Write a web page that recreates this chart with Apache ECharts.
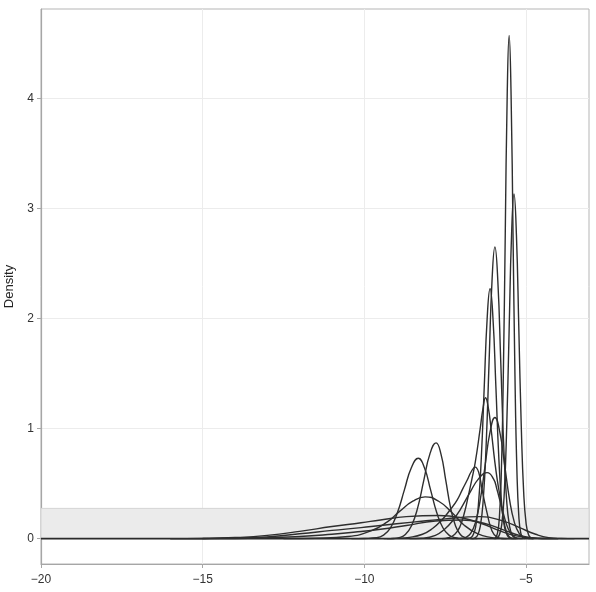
<!DOCTYPE html>
<html>
<head>
<meta charset="utf-8">
<script src="https://cdn.jsdelivr.net/npm/echarts@6/dist/echarts.min.js"></script>
<style>
  html, body { margin: 0; padding: 0; background: #fff; }
  #chart { width: 596px; height: 592px; }
</style>
</head>
<body>
<div id="chart"></div>
<script>
// tick labels
var xTicks = [-20, -15, -10, -5];
var yTicks = [0, 1, 2, 3, 4];
// grey band (ymin, ymax)
var band = [0, 0.275];
// flat zero line under all curves
var baseline = [[-20, 0], [-3.05, 0]];

// density curves, [x, density]
var curveA = [[-6.0,0],[-5.94,0.01],[-5.88,0.05],[-5.82,0.2],[-5.76,0.62],[-5.70,1.48],[-5.64,2.77],[-5.58,4.03],[-5.52,4.57],[-5.46,4.03],[-5.40,2.77],[-5.34,1.48],[-5.28,0.62],[-5.22,0.2],[-5.16,0.05],[-5.10,0.01],[-5.04,0]];
var curveB = [[-5.97,0],[-5.895,0.007],[-5.82,0.035],[-5.745,0.137],[-5.67,0.42],[-5.595,1.02],[-5.52,1.9],[-5.445,2.76],[-5.37,3.13],[-5.295,2.76],[-5.22,1.9],[-5.145,1.02],[-5.07,0.42],[-4.995,0.137],[-4.92,0.035],[-4.845,0.007],[-4.77,0]];
var curveC = [[-6.68,0],[-6.59,0.006],[-6.5,0.029],[-6.41,0.116],[-6.32,0.36],[-6.23,0.86],[-6.14,1.61],[-6.05,2.34],[-5.96,2.65],[-5.87,2.34],[-5.78,1.61],[-5.69,0.86],[-5.6,0.36],[-5.51,0.116],[-5.42,0.029],[-5.33,0.006],[-5.24,0]];
var curveD = [[-6.83,0],[-6.74,0.005],[-6.65,0.025],[-6.56,0.1],[-6.47,0.31],[-6.38,0.74],[-6.29,1.38],[-6.2,2.0],[-6.11,2.27],[-6.02,2.0],[-5.93,1.38],[-5.84,0.74],[-5.75,0.31],[-5.66,0.1],[-5.57,0.025],[-5.48,0.005],[-5.39,0]];
var curveE = [[-7.6,0],[-7.4,0.008],[-7.2,0.04],[-7.04,0.11],[-6.9,0.24],[-6.79,0.38],[-6.68,0.53],[-6.57,0.69],[-6.42,0.99],[-6.33,1.18],[-6.25,1.28],[-6.17,1.2],[-6.08,1.0],[-5.96,0.69],[-5.88,0.52],[-5.8,0.38],[-5.65,0.11],[-5.55,0.03],[-5.45,0.005],[-5.3,0]];
var curveF = [[-7.16,0],[-7.01,0.002],[-6.86,0.012],[-6.71,0.048],[-6.56,0.15],[-6.41,0.36],[-6.26,0.67],[-6.11,0.97],[-5.96,1.1],[-5.81,0.97],[-5.66,0.67],[-5.51,0.36],[-5.36,0.15],[-5.21,0.048],[-5.06,0.012],[-4.91,0.002],[-4.76,0]];
var curveG = [[-9.3,0],[-9.1,0.002],[-8.92,0.01],[-8.73,0.038],[-8.54,0.118],[-8.35,0.28],[-8.16,0.53],[-7.97,0.77],[-7.78,0.87],[-7.63,0.77],[-7.48,0.53],[-7.33,0.28],[-7.18,0.118],[-7.03,0.038],[-6.88,0.01],[-6.7,0.002],[-6.5,0]];
var curveH = [[-10.4,0],[-10.0,0.002],[-9.62,0.008],[-9.405,0.032],[-9.19,0.099],[-8.975,0.237],[-8.76,0.443],[-8.545,0.644],[-8.33,0.73],[-8.14,0.644],[-7.95,0.443],[-7.76,0.237],[-7.57,0.099],[-7.38,0.032],[-7.19,0.008],[-7.0,0.002],[-6.8,0]];
var curveI = [[-9.4,0],[-9.0,0.003],[-8.6,0.012],[-8.2,0.04],[-7.9,0.09],[-7.6,0.17],[-7.35,0.26],[-7.13,0.35],[-6.96,0.45],[-6.82,0.53],[-6.69,0.61],[-6.57,0.65],[-6.46,0.6],[-6.36,0.45],[-6.2,0.23],[-6.05,0.07],[-5.9,0.015],[-5.75,0.002],[-5.6,0]];
var curveJ = [[-8.6,0],[-8.2,0.004],[-7.8,0.03],[-7.5,0.09],[-7.25,0.17],[-7.04,0.26],[-6.73,0.42],[-6.45,0.55],[-6.2,0.6],[-6.0,0.54],[-5.9,0.45],[-5.8,0.34],[-5.7,0.23],[-5.55,0.09],[-5.4,0.025],[-5.25,0.004],[-5.1,0]];
var curveK = [[-12.5,0],[-11.5,0.004],[-10.5,0.02],[-9.8,0.07],[-9.3,0.15],[-8.9,0.25],[-8.5,0.34],[-8.12,0.38],[-7.7,0.34],[-7.3,0.24],[-6.9,0.12],[-6.5,0.045],[-6.1,0.012],[-5.7,0.002],[-5.3,0]];
var curveM = [[-16,0],[-15,0.002],[-14,0.01],[-13,0.03],[-12,0.066],[-11,0.11],[-10.1,0.145],[-9.5,0.17],[-8.7,0.2],[-7.7,0.21],[-7.0,0.19],[-6.4,0.14],[-5.8,0.07],[-5.3,0.025],[-4.8,0.005],[-4.4,0.001],[-4.0,0]];
var curveN = [[-16,0],[-15,0.002],[-13.5,0.008],[-12,0.045],[-11,0.075],[-10.1,0.1],[-9.5,0.12],[-8.5,0.15],[-7.5,0.18],[-6.42,0.2],[-5.7,0.16],[-5.2,0.1],[-4.7,0.04],[-4.3,0.01],[-3.9,0.002],[-3.5,0]];
var curveO = [[-15,0],[-14,0.002],[-12,0.02],[-11,0.04],[-10.1,0.065],[-9.5,0.085],[-8.7,0.12],[-7.8,0.16],[-7.0,0.17],[-6.3,0.14],[-5.7,0.08],[-5.2,0.03],[-4.8,0.008],[-4.4,0.001],[-4.0,0]];

var curves = [curveA, curveB, curveC, curveD, curveE, curveF, curveG, curveH, curveI, curveJ, curveK, curveM, curveN, curveO];

function minus(v) {
  return String(v).replace('-', '\u2212');
}

var lineStyle = { color: '#2e2e2e', width: 1.4 };

var series = [{
  type: 'line',
  data: baseline,
  z: 2,
  showSymbol: false,
  silent: true,
  lineStyle: { color: '#2b2b2b', width: 1.6 },
  markArea: {
    silent: true,
    itemStyle: { color: '#ebebeb', borderColor: '#d4d4d4', borderWidth: 1 },
    data: [[{ yAxis: band[0] }, { yAxis: band[1] }]]
  }
}];
curves.forEach(function (c) {
  series.push({
    type: 'line',
    data: c,
    z: 3,
    smooth: 0.5,
    showSymbol: false,
    silent: true,
    lineStyle: lineStyle
  });
});

var myChart = echarts.init(document.getElementById('chart'));
myChart.setOption({
  animation: false,
  backgroundColor: '#fff',
  textStyle: { fontFamily: 'Liberation Sans, Arial, sans-serif' },
  grid: {
    left: 41, right: 7, top: 9, bottom: 28,
    outerBoundsMode: 'none',
    containLabel: false,
    show: true, borderColor: '#b5b5b5', borderWidth: 1, backgroundColor: 'transparent'
  },
  xAxis: {
    type: 'value',
    min: -20, max: -3.05,
    axisLine: { show: true, onZero: false, lineStyle: { color: '#a6a6a6', width: 1.2 } },
    axisTick: { show: true, length: 4, customValues: xTicks, lineStyle: { color: '#a6a6a6' } },
    axisLabel: { customValues: xTicks, color: '#333', fontSize: 12, margin: 10, formatter: minus },
    splitLine: { show: true, lineStyle: { color: '#ececec', width: 1 } }
  },
  yAxis: {
    type: 'value',
    min: -0.23, max: 4.81,
    name: 'Density',
    nameLocation: 'middle',
    nameGap: 25,
    nameRotate: 90,
    nameTextStyle: { color: '#222', fontSize: 13 },
    axisLine: { show: true, onZero: false, lineStyle: { color: '#a6a6a6', width: 1.2 } },
    axisTick: { show: true, length: 4, customValues: yTicks, lineStyle: { color: '#a6a6a6' } },
    axisLabel: { customValues: yTicks, color: '#333', fontSize: 12, margin: 7, formatter: minus },
    splitLine: { show: true, lineStyle: { color: '#ececec', width: 1 } }
  },
  series: series
});
</script>
</body>
</html>
